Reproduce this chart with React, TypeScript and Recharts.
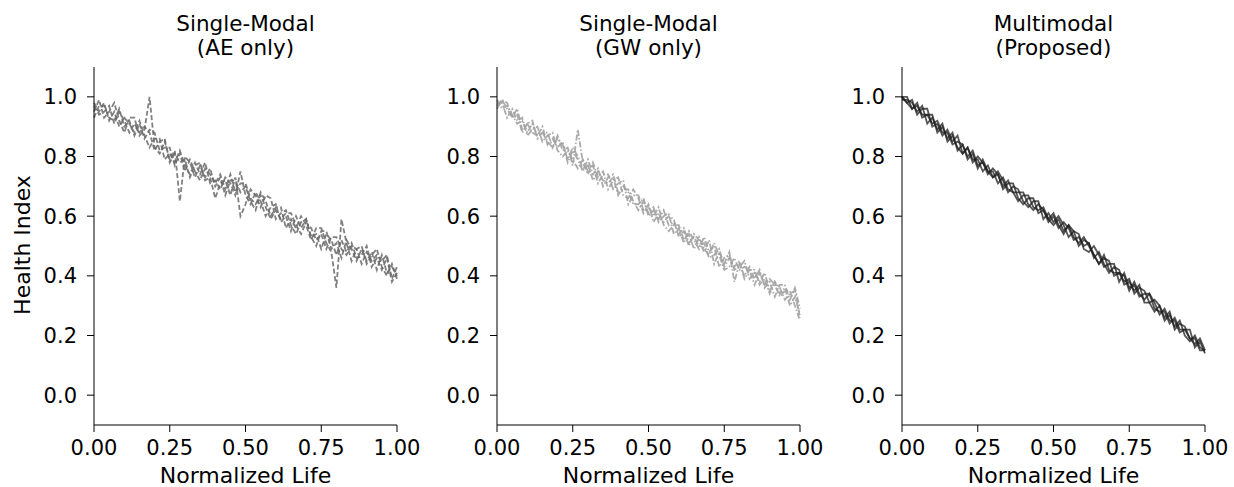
import React from "react";
import { LineChart, Line, XAxis, YAxis } from "recharts";

// health index traces, 61 samples per run over normalized life 0..1
const AE_1 = [
  0.98, 0.95, 0.98, 0.92, 0.95, 0.90, 0.93, 0.91, 0.88, 0.92,
  0.87, 0.83, 0.86, 0.86, 0.79, 0.81, 0.78, 0.82, 0.77, 0.74,
  0.78, 0.74, 0.78, 0.71, 0.72, 0.69, 0.73, 0.71, 0.67, 0.75,
  0.67, 0.64, 0.68, 0.65, 0.60, 0.63, 0.64, 0.58, 0.60, 0.55,
  0.60, 0.56, 0.59, 0.53, 0.54, 0.49, 0.54, 0.52, 0.47, 0.52,
  0.48, 0.51, 0.46, 0.47, 0.50, 0.43, 0.46, 0.42, 0.46, 0.38,
  0.41,
];
const AE_2 = [
  0.95, 0.99, 0.93, 0.95, 0.98, 0.92, 0.88, 0.93, 0.93, 0.87,
  0.89, 1.00, 0.83, 0.81, 0.85, 0.79, 0.82, 0.65, 0.80, 0.78,
  0.73, 0.77, 0.73, 0.76, 0.70, 0.73, 0.67, 0.72, 0.72, 0.68,
  0.70, 0.65, 0.62, 0.68, 0.65, 0.60, 0.63, 0.63, 0.56, 0.59,
  0.56, 0.60, 0.57, 0.52, 0.56, 0.56, 0.51, 0.48, 0.36, 0.59,
  0.51, 0.45, 0.49, 0.50, 0.44, 0.47, 0.49, 0.43, 0.40, 0.44,
  0.39,
];
const AE_3 = [
  0.97, 0.94, 0.95, 0.97, 0.91, 0.95, 0.92, 0.88, 0.91, 0.88,
  0.90, 0.88, 0.82, 0.85, 0.86, 0.78, 0.81, 0.78, 0.79, 0.73,
  0.77, 0.78, 0.72, 0.73, 0.66, 0.71, 0.72, 0.67, 0.73, 0.60,
  0.64, 0.69, 0.67, 0.63, 0.67, 0.66, 0.59, 0.61, 0.62, 0.57,
  0.54, 0.58, 0.59, 0.53, 0.50, 0.55, 0.55, 0.49, 0.51, 0.46,
  0.52, 0.49, 0.45, 0.49, 0.45, 0.48, 0.42, 0.47, 0.41, 0.43,
  0.40,
];
const AE_4 = [
  0.93, 0.97, 0.97, 0.93, 0.92, 0.96, 0.90, 0.92, 0.87, 0.91,
  0.86, 0.89, 0.88, 0.82, 0.83, 0.83, 0.77, 0.81, 0.75, 0.79,
  0.75, 0.72, 0.76, 0.74, 0.71, 0.74, 0.69, 0.74, 0.68, 0.71,
  0.71, 0.66, 0.64, 0.67, 0.63, 0.59, 0.62, 0.59, 0.61, 0.61,
  0.57, 0.54, 0.58, 0.56, 0.52, 0.54, 0.49, 0.53, 0.53, 0.49,
  0.47, 0.50, 0.49, 0.44, 0.48, 0.45, 0.47, 0.45, 0.47, 0.39,
  0.43,
];

const GW_1 = [
  0.99, 0.96, 0.97, 0.94, 0.91, 0.92, 0.88, 0.91, 0.87, 0.90,
  0.84, 0.86, 0.83, 0.85, 0.78, 0.82, 0.79, 0.75, 0.79, 0.74,
  0.76, 0.70, 0.73, 0.74, 0.68, 0.69, 0.69, 0.65, 0.62, 0.65,
  0.61, 0.63, 0.58, 0.60, 0.61, 0.54, 0.56, 0.51, 0.55, 0.52,
  0.49, 0.53, 0.48, 0.50, 0.43, 0.46, 0.47, 0.42, 0.43, 0.45,
  0.39, 0.41, 0.38, 0.41, 0.35, 0.38, 0.34, 0.36, 0.30, 0.33,
  0.27,
];
const GW_2 = [
  0.97, 0.99, 0.98, 0.93, 0.94, 0.88, 0.91, 0.92, 0.86, 0.88,
  0.88, 0.83, 0.87, 0.82, 0.83, 0.77, 0.89, 0.78, 0.74, 0.78,
  0.73, 0.75, 0.69, 0.72, 0.73, 0.67, 0.66, 0.69, 0.66, 0.61,
  0.64, 0.58, 0.61, 0.58, 0.60, 0.59, 0.53, 0.55, 0.50, 0.54,
  0.52, 0.48, 0.52, 0.44, 0.48, 0.44, 0.48, 0.38, 0.44, 0.40,
  0.43, 0.39, 0.42, 0.36, 0.38, 0.33, 0.37, 0.37, 0.32, 0.36,
  0.29,
];
const GW_3 = [
  0.98, 0.98, 0.93, 0.96, 0.92, 0.93, 0.87, 0.89, 0.90, 0.85,
  0.87, 0.88, 0.82, 0.80, 0.82, 0.79, 0.76, 0.79, 0.75, 0.77,
  0.71, 0.74, 0.74, 0.69, 0.71, 0.72, 0.64, 0.67, 0.67, 0.62,
  0.63, 0.60, 0.63, 0.57, 0.55, 0.57, 0.57, 0.52, 0.54, 0.49,
  0.53, 0.49, 0.47, 0.51, 0.47, 0.42, 0.43, 0.46, 0.42, 0.43,
  0.42, 0.37, 0.41, 0.37, 0.39, 0.37, 0.33, 0.35, 0.35, 0.30,
  0.25,
];
const GW_4 = [
  0.96, 0.99, 0.96, 0.93, 0.96, 0.89, 0.91, 0.88, 0.87, 0.88,
  0.85, 0.83, 0.86, 0.84, 0.79, 0.83, 0.80, 0.76, 0.77, 0.72,
  0.75, 0.72, 0.71, 0.73, 0.67, 0.70, 0.68, 0.64, 0.64, 0.66,
  0.60, 0.62, 0.59, 0.62, 0.57, 0.58, 0.54, 0.56, 0.51, 0.53,
  0.50, 0.51, 0.46, 0.47, 0.49, 0.43, 0.46, 0.43, 0.45, 0.39,
  0.42, 0.42, 0.37, 0.39, 0.34, 0.38, 0.36, 0.32, 0.34, 0.35,
  0.26,
];

const MM_1 = [
  1.00, 1.00, 0.96, 0.98, 0.93, 0.94, 0.94, 0.88, 0.90, 0.86,
  0.88, 0.82, 0.84, 0.80, 0.82, 0.77, 0.78, 0.74, 0.76, 0.74,
  0.69, 0.71, 0.71, 0.66, 0.64, 0.66, 0.66, 0.61, 0.62, 0.59,
  0.61, 0.57, 0.54, 0.57, 0.55, 0.50, 0.52, 0.51, 0.47, 0.44,
  0.46, 0.45, 0.40, 0.41, 0.38, 0.39, 0.34, 0.36, 0.35, 0.31,
  0.28, 0.30, 0.26, 0.28, 0.22, 0.24, 0.23, 0.19, 0.19, 0.15,
  0.15,
];
const MM_2 = [
  1.00, 0.98, 0.99, 0.94, 0.96, 0.96, 0.90, 0.91, 0.87, 0.89,
  0.85, 0.87, 0.81, 0.83, 0.79, 0.79, 0.75, 0.77, 0.73, 0.75,
  0.72, 0.68, 0.70, 0.69, 0.65, 0.63, 0.65, 0.65, 0.59, 0.61,
  0.58, 0.60, 0.57, 0.53, 0.55, 0.54, 0.49, 0.48, 0.50, 0.47,
  0.43, 0.44, 0.44, 0.38, 0.41, 0.36, 0.37, 0.33, 0.34, 0.34,
  0.31, 0.27, 0.29, 0.25, 0.25, 0.21, 0.22, 0.22, 0.16, 0.18,
  0.14,
];
const MM_3 = [
  0.99, 0.99, 0.98, 0.95, 0.97, 0.91, 0.93, 0.89, 0.91, 0.85,
  0.87, 0.83, 0.81, 0.83, 0.78, 0.80, 0.78, 0.75, 0.75, 0.71,
  0.73, 0.69, 0.68, 0.68, 0.68, 0.64, 0.62, 0.64, 0.62, 0.58,
  0.60, 0.56, 0.58, 0.56, 0.52, 0.53, 0.50, 0.51, 0.46, 0.48,
  0.44, 0.41, 0.43, 0.42, 0.37, 0.38, 0.35, 0.37, 0.31, 0.31,
  0.32, 0.30, 0.25, 0.27, 0.23, 0.25, 0.20, 0.18, 0.20, 0.16,
  0.15,
];
const MM_4 = [
  1.00, 0.98, 0.96, 0.97, 0.94, 0.94, 0.91, 0.92, 0.88, 0.88,
  0.84, 0.85, 0.84, 0.79, 0.81, 0.76, 0.79, 0.75, 0.73, 0.74,
  0.70, 0.72, 0.68, 0.65, 0.67, 0.67, 0.63, 0.62, 0.63, 0.59,
  0.57, 0.59, 0.55, 0.57, 0.53, 0.51, 0.53, 0.50, 0.47, 0.44,
  0.47, 0.42, 0.41, 0.41, 0.40, 0.35, 0.38, 0.34, 0.32, 0.34,
  0.29, 0.28, 0.28, 0.24, 0.26, 0.22, 0.22, 0.19, 0.17, 0.19,
  0.15,
];

const X_TICKS = [0, 0.25, 0.5, 0.75, 1];
const Y_TICKS = [0, 0.2, 0.4, 0.6, 0.8, 1.0];

const FONT = "'DejaVu Sans', sans-serif";
const TICK_FS = 21;
const LABEL_FS = 22;

function buildRows(runs: number[][]) {
  const n = runs[0].length;
  return runs[0].map((_, i) => {
    const row: any = { x: i / (n - 1) };
    runs.forEach((r, k) => (row["r" + k] = r[i]));
    return row;
  });
}

type PanelProps = {
  left: number;
  title: string;
  sub: string;
  runs: number[][];
  color: string;
  dash?: string;
  opacity: number;
  width: number;
};

function Panel({ left, title, sub, runs, color, dash, opacity, width }: PanelProps) {
  const rows = buildRows(runs);
  const tick = { fill: "#000", fontSize: TICK_FS, fontFamily: FONT };
  return (
    <div style={{ position: "absolute", left, top: 0 }}>
      <div
        style={{
          position: "absolute",
          left: 44,
          top: 12,
          width: 403,
          textAlign: "center",
          fontFamily: FONT,
          fontSize: 21.5,
          lineHeight: "24px",
          color: "#000",
          whiteSpace: "nowrap",
        }}
      >
        {title}
        <br />
        {sub}
      </div>
      <LineChart
        width={440}
        height={487}
        data={rows}
        margin={{ top: 67, right: 43, bottom: 0, left: 44 }}
      >
        <XAxis
          type="number"
          dataKey="x"
          domain={[0, 1]}
          ticks={X_TICKS}
          tickFormatter={(v: number) => v.toFixed(2)}
          tick={tick}
          stroke="#000"
          tickLine={{ stroke: "#000" }}
          tickSize={7}
          tickMargin={8}
          height={62}
          interval={0}
          label={{
            value: "Normalized Life",
            position: "insideBottom",
            offset: 4,
            fill: "#000",
            fontSize: LABEL_FS,
            fontFamily: FONT,
          }}
        />
        <YAxis
          type="number"
          domain={[-0.1, 1.1]}
          ticks={Y_TICKS}
          tickFormatter={(v: number) => v.toFixed(1)}
          tick={tick}
          stroke="#000"
          tickLine={{ stroke: "#000" }}
          tickSize={7}
          tickMargin={10}
          width={50}
          interval={0}
          allowDataOverflow
        />
        {runs.map((_, k) => (
          <Line
            key={k}
            type="linear"
            dataKey={"r" + k}
            stroke={color}
            strokeOpacity={opacity}
            strokeWidth={width}
            strokeDasharray={dash}
            dot={false}
            activeDot={false}
            isAnimationActive={false}
          />
        ))}
      </LineChart>
    </div>
  );
}

export default function App() {
  return (
    <div
      style={{
        position: "absolute",
        left: 0,
        top: 0,
        width: 1234,
        height: 487,
        background: "#fff",
        overflow: "hidden",
      }}
    >
      <Panel
        left={0}
        title="Single-Modal"
        sub="(AE only)"
        runs={[AE_1, AE_2, AE_3, AE_4]}
        color="#6a6a6a"
        dash="5 2.5"
        opacity={0.85}
        width={1.8}
      />
      <Panel
        left={403}
        title="Single-Modal"
        sub="(GW only)"
        runs={[GW_1, GW_2, GW_3, GW_4]}
        color="#a2a2a2"
        dash="6 2 1.5 2"
        opacity={0.9}
        width={1.8}
      />
      <Panel
        left={808}
        title="Multimodal"
        sub="(Proposed)"
        runs={[MM_1, MM_2, MM_3, MM_4]}
        color="#1e1e1e"
        opacity={0.75}
        width={1.8}
      />
      <div
        style={{
          position: "absolute",
          left: 22,
          top: 245,
          transform: "translate(-50%, -50%) rotate(-90deg)",
          fontFamily: FONT,
          fontSize: LABEL_FS,
          whiteSpace: "nowrap",
          color: "#000",
        }}
      >
        Health Index
      </div>
    </div>
  );
}
